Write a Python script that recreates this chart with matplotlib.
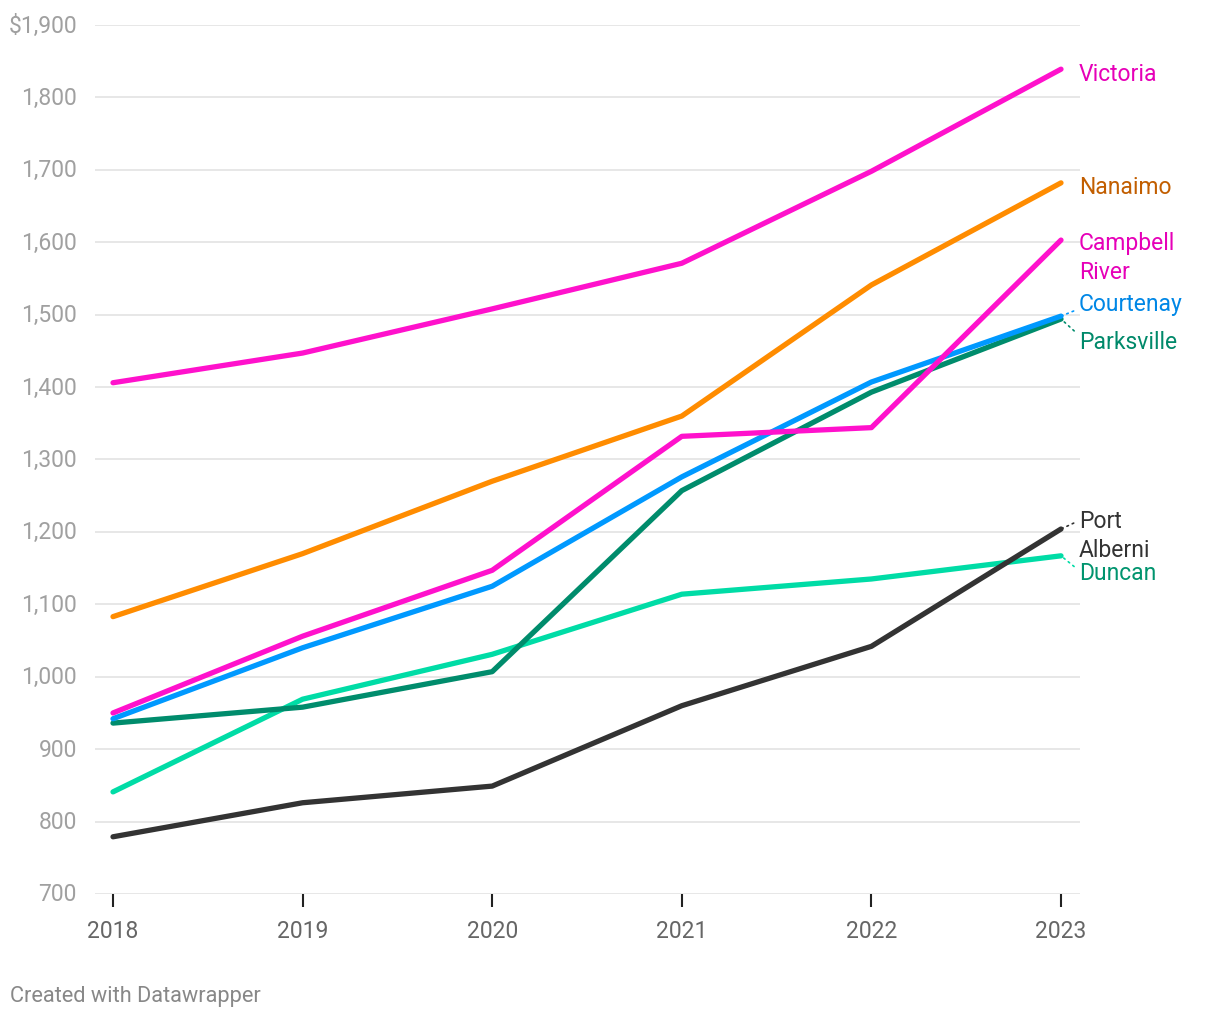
import matplotlib.pyplot as plt
from matplotlib.ticker import FuncFormatter

plt.rcParams['font.family'] = ['Roboto', 'DejaVu Sans']

years = [2018, 2019, 2020, 2021, 2022, 2023]

victoria = [1406, 1447, 1508, 1571, 1698, 1839]
nanaimo = [1083, 1170, 1270, 1360, 1541, 1682]
campbell_river = [950, 1056, 1147, 1332, 1344, 1603]
courtenay = [942, 1040, 1125, 1276, 1407, 1498]
parksville = [936, 958, 1007, 1257, 1393, 1494]
duncan = [841, 969, 1031, 1114, 1135, 1167]
port_alberni = [779, 826, 849, 960, 1042, 1204]

# name, values, line colour, label colour, label offset (px), connector relpos
series = [
    ("Duncan", duncan, "#00dca6", "#00946e", (18, -17), (0, 0.6)),
    ("Port\nAlberni", port_alberni, "#333333", "#333333", (18, -6), (0, 0.78)),
    ("Parksville", parksville, "#008c6c", "#00896a", (18, -22), (0, 0.75)),
    ("Courtenay", courtenay, "#0099ff", "#0087e6", (18, 13), (0, 0.25)),
    ("Campbell\nRiver", campbell_river, "#ff11cc", "#e600b8", (18, -17), None),
    ("Nanaimo", nanaimo, "#ff8c00", "#c25e00", (18, -4), None),
    ("Victoria", victoria, "#ff11cc", "#e600b8", (18, -4), None),
]

fig = plt.figure(figsize=(12.2, 10.2), dpi=100)
ax = fig.add_axes([95 / 1220, 125 / 1020, 985 / 1220, 869 / 1020])

for name, vals, color, lcolor, off, rel in series:
    ax.plot(years, vals, color=color, lw=3.8, solid_capstyle='round',
            solid_joinstyle='round', zorder=3)
    kw = {}
    if rel is not None:
        kw['arrowprops'] = dict(arrowstyle='-', color=color, lw=1.2,
                                linestyle=(0, (1, 2.5)), relpos=rel,
                                shrinkA=2, shrinkB=1)
    ax.annotate(name, xy=(years[-1], vals[-1]), xytext=off,
                textcoords='offset pixels', ha='left', va='center',
                fontsize=16.5, color=lcolor, linespacing=1.3, **kw)

ax.set_xlim(2018 - 18 / 189.6, 2023 + 19 / 189.6)
ax.set_ylim(700, 1900)
ax.set_yticks(range(700, 2000, 100))
ax.yaxis.set_major_formatter(FuncFormatter(
    lambda v, p: f"${v:,.0f}" if v == 1900 else f"{v:,.0f}"))
ax.set_xticks(years)
ax.grid(axis='y', color='#e3e3e3', lw=1.2, zorder=0)
for s in ax.spines.values():
    s.set_visible(False)
ax.tick_params(axis='y', length=0, pad=13, labelsize=16.5, labelcolor='#a0a0a0')
ax.tick_params(axis='x', length=9, width=1.5, color='#222222', pad=9,
               labelsize=16.5, labelcolor='#666666', direction='out')
for lbl in ax.get_yticklabels():
    lbl.set_va('center')

fig.text(10 / 1220, 1 - 997 / 1020, "Created with Datawrapper", fontsize=15.7,
         color='#888888', ha='left', va='center')

fig.savefig('out.png', dpi=100)
